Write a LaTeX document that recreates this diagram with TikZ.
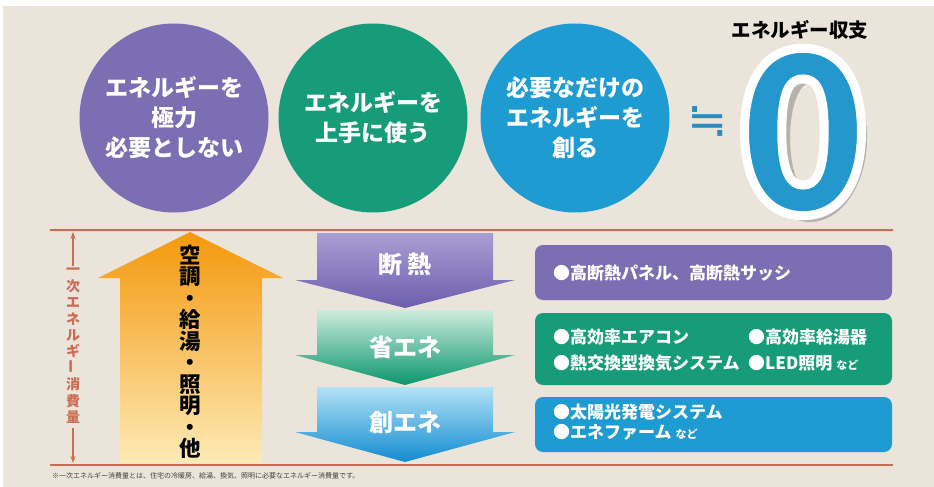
\documentclass[tikz,border=0pt]{standalone}
\usepackage{fontspec}
\setmainfont{Noto Sans CJK JP}
\newfontfamily\symfont{DejaVu Sans}
\usetikzlibrary{arrows.meta}

\definecolor{paper}{RGB}{234,228,218}
\definecolor{purpleC}{RGB}{123,110,178}
\definecolor{greenC}{RGB}{22,156,120}
\definecolor{blueC}{RGB}{30,156,210}
\definecolor{zeroblue}{RGB}{36,152,204}
\definecolor{eqblue}{RGB}{40,140,188}
\definecolor{rulered}{RGB}{204,108,84}
\definecolor{orangetop}{RGB}{244,152,12}
\definecolor{orangebot}{RGB}{253,234,182}
\definecolor{purpletop}{RGB}{170,158,212}
\definecolor{purplebot}{RGB}{108,94,172}
\definecolor{greentop}{RGB}{204,236,222}
\definecolor{greenbot}{RGB}{12,150,108}
\definecolor{bluetop}{RGB}{178,226,246}
\definecolor{bluebot}{RGB}{18,140,208}

\newcommand{\nado}{\fontsize{11}{11}\selectfont など}
\newcommand{\whiteedge}[1]{\special{pdf:literal direct 1 1 1 RG 9 w 2 Tr}#1\special{pdf:literal direct 0 Tr}}
\newcommand{\dnarrow}[5]{\shade[top color=#1, bottom color=#2] (317,#3) -- (493,#3) -- (493,#4) -- (515,#4) -- (405,#5) -- (295,#4) -- (317,#4) -- cycle;}

\begin{document}
\begin{tikzpicture}[x = 1pt, y = -1pt,
  disc/.style = {circle, minimum size = 189pt, inner sep = 0pt, text = white, align = center, font = \fontsize{23}{30}\selectfont\bfseries},
  panel/.style = {rectangle, rounded corners = 8pt, minimum width = 357pt, inner sep = 0pt},
  item/.style = {anchor = west, inner sep = 0pt, text = white, font = \fontsize{17}{17}\selectfont\bfseries},
  steplabel/.style = {text = white, font = \fontsize{24}{24}\selectfont\bfseries},
  redline/.style = {line width = 2.5pt, draw = rulered},
  measure/.style = {line width = 1.2pt, draw = rulered, -{Stealth[length = 7pt, width = 5pt]}}]

\fill[white] (0,0) rectangle (934,487);
\fill[paper] (3,6) rectangle (934,487);
\useasboundingbox (0,0) rectangle (934,487);

\node[disc, fill = purpleC] (c1) at (174,118) {エネルギーを\\極力\\必要としない};
\node[disc, fill = greenC] (c2) at (373,118) {エネルギーを\\上手に使う};
\node[disc, fill = blueC] (c3) at (575,118) {必要なだけの\\エネルギーを\\創る};

\node[text = eqblue, font = \fontsize{48}{48}\symfont] (eq) at (708,122) {≒};
\node[font = \fontsize{19.5}{19.5}\selectfont\bfseries] (title) at (800,30) {エネルギー収支};
\fill[black, opacity = 0.22, even odd rule] (810,138) ellipse (57 and 84) (810,138) ellipse (20 and 55);
\node[text = zeroblue, inner sep = 0pt, font = \fontsize{222}{222}\selectfont\bfseries] (zero) at (803,132) {\whiteedge{0}};

\coordinate (t1) at (50,230);
\coordinate (t2) at (893,230);
\coordinate (u1) at (50,465);
\coordinate (u2) at (893,465);
\coordinate (mtop) at (73,232);
\coordinate (m1) at (73,266);
\coordinate (m2) at (73,428);
\coordinate (mbot) at (73,463);

\shade[top color = orangetop, bottom color = orangebot] (120,463) -- (120,278) -- (98,278) -- (190,232) -- (283,278) -- (262,278) -- (262,463) -- cycle;
\node[align = center, inner sep = 0pt, font = \fontsize{21.5}{21.5}\selectfont\bfseries] (use) at (190,352) {空\\調\\・\\給\\湯\\・\\照\\明\\・\\他};

\dnarrow{purpletop}{purplebot}{233}{280}{308}
\dnarrow{greentop}{greenbot}{310}{355}{385}
\dnarrow{bluetop}{bluebot}{387}{432}{462}
\node[steplabel] (s1) at (405,264) {断 熱};
\node[steplabel] (s2) at (405,347) {省エネ};
\node[steplabel] (s3) at (405,423) {創エネ};

\draw[redline] (t1) -- (t2);
\draw[redline] (u1) -- (u2);
\draw[measure] (m1) -- (mtop);
\draw[measure] (m2) -- (mbot);
\node[text = rulered, align = center, inner sep = 0pt, font = \fontsize{14}{16.4}\selectfont\bfseries] (lbl) at (73,346) {一\\次\\エ\\ネ\\ル\\ギ\\\rotatebox{90}{ー}\\消\\費\\量};

\node[panel, fill = purpleC, minimum height = 55pt] (b1) at (713.5,272.5) {};
\node[panel, fill = greenC, minimum height = 72pt] (b2) at (713.5,349) {};
\node[panel, fill = blueC, minimum height = 55pt] (b3) at (713.5,424.5) {};

\node[item] (i1) at (553,273) {●高断熱パネル、高断熱サッシ};
\node[item] (i2) at (553,337) {●高効率エアコン};
\node[item] (i3) at (748,337) {●高効率給湯器};
\node[item] (i4) at (553,363) {●熱交換型換気システム};
\node[item] (i5) at (748,363) {●LED照明 \nado};
\node[item] (i6) at (553,412) {●太陽光発電システム};
\node[item] (i7) at (553,432) {●エネファーム \nado};

\node[anchor = west, inner sep = 0pt, text = black!75, font = \fontsize{7}{7}\selectfont] (note) at (52,476) {※一次エネルギー消費量とは、住宅の冷暖房、給湯、換気、照明に必要なエネルギー消費量です。};
\end{tikzpicture}
\end{document}
